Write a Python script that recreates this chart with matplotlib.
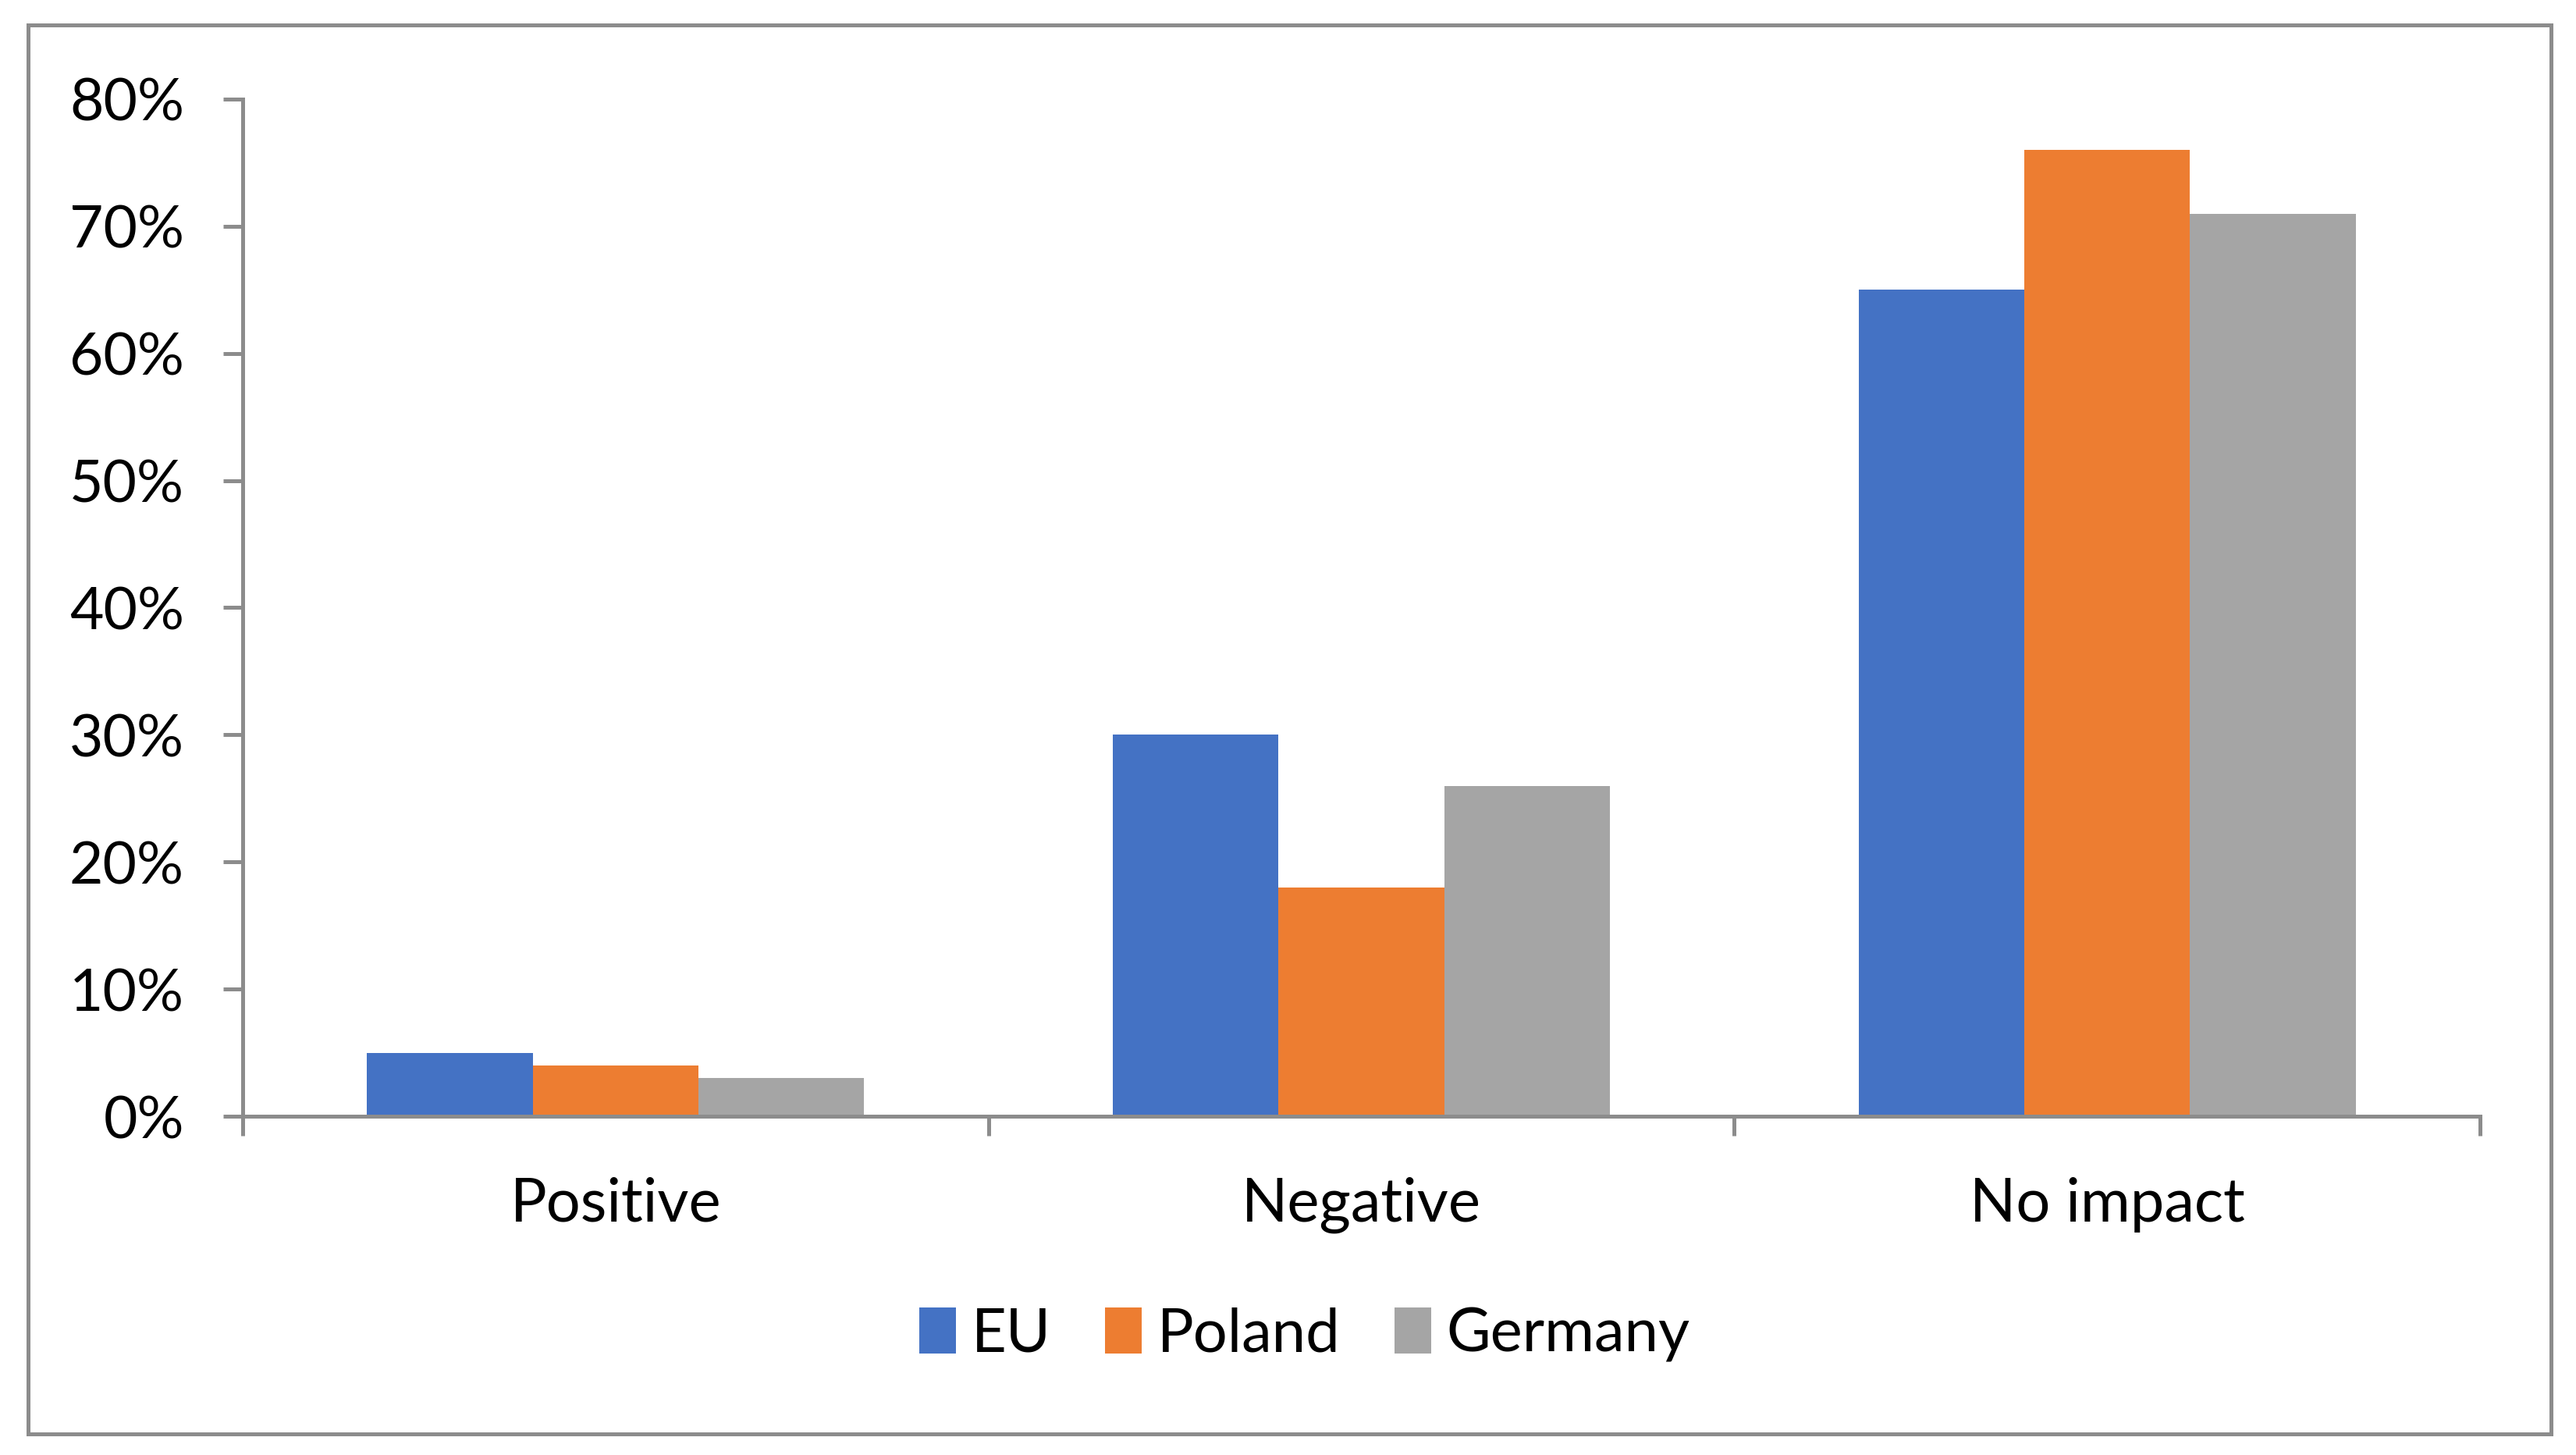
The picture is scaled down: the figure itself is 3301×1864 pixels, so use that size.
import matplotlib.pyplot as plt
import matplotlib.ticker as mticker
from matplotlib.patches import Rectangle
import numpy as np

categories = ["Positive", "Negative", "No impact"]
series = ["EU", "Poland", "Germany"]
eu = [0.05, 0.30, 0.65]
poland = [0.04, 0.18, 0.76]
germany = [0.03, 0.26, 0.71]
colors = ["#4472C4", "#ED7D31", "#A5A5A5"]
yticks = [0, 0.1, 0.2, 0.3, 0.4, 0.5, 0.6, 0.7, 0.8]

gray = "#8C8C8C"
plt.rcParams["font.family"] = ["Lato", "DejaVu Sans"]

fig = plt.figure(figsize=(16.505, 9.32), dpi=200)
ax = fig.add_axes([0.0942, 0.2328, 0.9627 - 0.0942, 0.9319 - 0.2328])

# frame round the whole chart
fig.patches.append(Rectangle((0.0109, 0.0145), 0.9903 - 0.0109, 0.9828 - 0.0145,
                             transform=fig.transFigure, fill=False,
                             edgecolor=gray, linewidth=1.8))

x = np.arange(len(categories))
w = 2 / 9
for k, (vals, name) in enumerate(zip([eu, poland, germany], series)):
    ax.bar(x + (k - 1) * w, vals, width=w, color=colors[k], label=name, zorder=2)

ax.set_xlim(-0.5, len(categories) - 0.5)
ax.set_ylim(0, 0.8)
ax.set_yticks(yticks)
ax.yaxis.set_major_formatter(mticker.PercentFormatter(1.0, decimals=0))
ax.set_xticks(x)
ax.set_xticklabels(categories)
ax.set_xticks(np.arange(-0.5, len(categories)), minor=True)

for s in ["top", "right"]:
    ax.spines[s].set_visible(False)
for s in ["left", "bottom"]:
    ax.spines[s].set_color(gray)
    ax.spines[s].set_linewidth(1.8)

ax.tick_params(axis="y", length=9, width=1.8, color=gray, labelsize=27, pad=18)
ax.tick_params(axis="x", which="major", length=0, labelsize=28, pad=28)
ax.tick_params(axis="x", which="minor", length=9, width=1.8, color=gray)

ax.legend(loc="center", bbox_to_anchor=(0.5065, 0.0826), bbox_transform=fig.transFigure,
          ncol=3, frameon=False, fontsize=28, handlelength=0.6, handleheight=0.8,
          handletextpad=0.25, columnspacing=0.9)

plt.savefig("out.png")
